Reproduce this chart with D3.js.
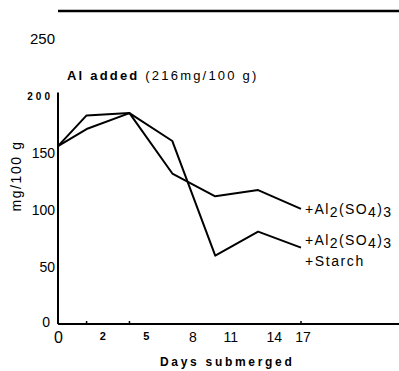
<!DOCTYPE html>
<html lang="en">
<head>
<meta charset="UTF-8">
<title>Al added</title>
<script src="https://d3js.org/d3.v7.min.js"></script>
<style>
  body { margin: 0; background: #fff; }
  text { font-family: "Liberation Sans", Arial, sans-serif; fill: #000; }
</style>
</head>
<body>
<div id="chart"></div>
<script>
// data
const days = [0, 2, 5, 8, 11, 14, 17];
const alSulfate = [156, 171, 185, 132, 112, 117.5, 101];
const alSulfateStarch = [156, 183, 185, 160.5, 60, 81, 67];
const yTicks = [0, 50, 100, 150, 200, 250];
const xTickLabels = ["0", "2", "5", "8", "11", "14", "17"];
// the hand lettered labels sit a bit right of their data positions
const xLabelAt = [0, 3.1, 6.15, 9.4, 12.05, 15.1, 17.1];
const xTickMarks = [2, 5, 17];

const width = 399, height = 371;
const svg = d3.select("#chart").append("svg")
    .attr("width", width)
    .attr("height", height);

const x = d3.scaleLinear().domain([0, 17]).range([58, 301]);
const y = d3.scaleLinear().domain([0, 250]).range([324, 39]);

// frame line at top
svg.append("line")
    .attr("x1", x(0)).attr("x2", width)
    .attr("y1", 11).attr("y2", 11)
    .attr("stroke", "#000").attr("stroke-width", 2.5);

// axes lines
svg.append("line")
    .attr("x1", x(0)).attr("x2", width)
    .attr("y1", y(0)).attr("y2", y(0))
    .attr("stroke", "#000").attr("stroke-width", 2);
svg.append("line")
    .attr("x1", x(0)).attr("x2", x(0))
    .attr("y1", y(0)).attr("y2", y(203))
    .attr("stroke", "#000").attr("stroke-width", 2);

// small tick marks on x axis
svg.selectAll(".xmark").data(xTickMarks).enter().append("line")
    .attr("class", "xmark")
    .attr("x1", d => x(d)).attr("x2", d => x(d))
    .attr("y1", y(0)).attr("y2", y(0) - 3)
    .attr("stroke", "#000").attr("stroke-width", 1.5);

// y tick labels
const ySize = {0: 14, 50: 14, 100: 14, 150: 14, 200: 10, 250: 15};
svg.selectAll(".ylab").data(yTicks).enter().append("text")
    .attr("class", "ylab")
    .attr("x", d => d === 0 ? 50 : (d === 200 ? 53 : 55))
    .attr("y", d => y(d) + (d === 0 ? -2 : 0))
    .attr("dy", "0.35em")
    .attr("text-anchor", "end")
    .style("font-size", d => ySize[d] + "px")
    .style("font-weight", d => d === 200 ? "bold" : "normal")
    .style("letter-spacing", d => d === 200 ? "3px" : "0px")
    .text(d => d);

// x tick labels
const xAxis = d3.axisBottom(x)
    .tickValues(xLabelAt)
    .tickSize(0)
    .tickPadding(8)
    .tickFormat((d, i) => xTickLabels[i]);
const gx = svg.append("g")
    .attr("transform", `translate(0,${y(0)})`)
    .call(xAxis);
gx.select(".domain").remove();
gx.selectAll("text")
    .style("font-family", "Liberation Sans, Arial, sans-serif")
    .style("font-size", (d, i) => i === 0 ? "16px" : (i < 3 ? "11px" : "14px"))
    .style("font-weight", (d, i) => (i === 1 || i === 2) ? "bold" : "normal");

// lines
const line = d3.line()
    .x((d, i) => x(days[i]))
    .y(d => y(d));

svg.append("path")
    .datum(alSulfate)
    .attr("d", line)
    .attr("fill", "none")
    .attr("stroke", "#000")
    .attr("stroke-width", 2)
    .attr("stroke-linejoin", "round");
svg.append("path")
    .datum(alSulfateStarch)
    .attr("d", line)
    .attr("fill", "none")
    .attr("stroke", "#000")
    .attr("stroke-width", 2)
    .attr("stroke-linejoin", "round");

// series labels
function chemLabel(g, yv) {
    const t = g.append("text")
        .attr("x", x(17) + 4)
        .attr("y", yv)
        .style("font-size", "14px")
        .style("letter-spacing", "1.4px");
    t.append("tspan").text("+Al");
    t.append("tspan").attr("dy", 3.5).text("2");
    t.append("tspan").attr("dy", -3.5).text("(SO");
    t.append("tspan").attr("dy", 3.5).text("4");
    t.append("tspan").attr("dy", -3.5).text(")");
    t.append("tspan").attr("dy", 3.5).text("3");
    return t;
}
chemLabel(svg, y(alSulfate[6]) + 5);
chemLabel(svg, y(alSulfateStarch[6]) - 3);
svg.append("text")
    .attr("x", x(17) + 4)
    .attr("y", y(alSulfateStarch[6]) + 18)
    .style("font-size", "14px")
    .style("letter-spacing", "1.6px")
    .text("+Starch");

// title inside
const title = svg.append("text")
    .attr("x", 67)
    .attr("y", 80)
    .style("font-size", "13px")
    .style("letter-spacing", "2.2px");
title.append("tspan").style("font-weight", "bold").text("Al added ");
title.append("tspan").text("(216mg/100 g)");

// axis titles
svg.append("text")
    .attr("transform", `translate(21,176) rotate(-90)`)
    .attr("text-anchor", "middle")
    .style("font-size", "14px")
    .style("letter-spacing", "1.6px")
    .text("mg/100 g");

svg.append("text")
    .attr("x", 160)
    .attr("y", 366)
    .style("font-size", "12px")
    .style("font-weight", "bold")
    .style("letter-spacing", "2.7px")
    .text("Days submerged");
</script>
</body>
</html>
